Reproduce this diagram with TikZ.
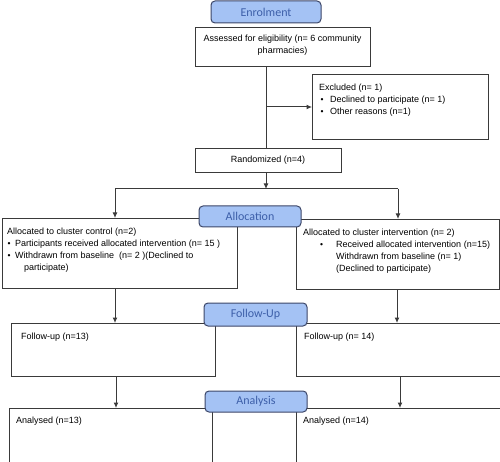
\documentclass[tikz,border=0pt]{standalone}
\usepackage{fontspec}
\setmainfont{Liberation Sans}
\newfontfamily\labfont{Carlito}
\usetikzlibrary{arrows.meta}
\definecolor{labfill}{HTML}{A4C2F4}
\definecolor{labtext}{HTML}{3D5FA9}
\definecolor{labedge}{HTML}{3C4668}
\definecolor{linec}{HTML}{3A3A3A}
\newcommand{\bul}{\makebox[0pt][l]{\raisebox{0.2pt}{\fontsize{8.5}{8}\selectfont\textbullet}}}
\begin{document}
\begin{tikzpicture}[x=1pt,y=-1pt,
  box/.style={draw=linec,line width=1pt,rectangle,inner sep=0pt,anchor=north west},
  txt/.style={inner sep=0pt,anchor=north west,align=left,font=\fontsize{9}{12}\selectfont},
  ctxt/.style={inner sep=0pt,align=center,font=\fontsize{9}{12}\selectfont},
  stage/.style={draw=labedge,fill=labfill,rounded corners=4pt,line width=1pt,inner sep=0pt,
    text=labtext,font=\labfont\fontsize{12}{14}\selectfont},
  conn/.style={draw=linec,line width=1pt},
  arr/.style={conn,-{Latex[length=5.5pt,width=5pt]}}]
\useasboundingbox (0,0) rectangle (500,462);
% boxes
\node[box,minimum width=175pt,minimum height=39pt] (assess) at (195,27) {};
\node[box,minimum width=176pt,minimum height=65pt] (excl) at (312,74) {};
\node[box,minimum width=146pt,minimum height=24pt] (rand) at (195,148) {};
\node[box,minimum width=235pt,minimum height=70pt] (ctrl) at (2,218) {};
\node[box,minimum width=203pt,minimum height=70pt] (intv) at (296,219) {};
\node[box,minimum width=204pt,minimum height=53pt] (fu1) at (11,323) {};
\node[box,minimum width=204pt,minimum height=53pt] (fu2) at (296,323) {};
\node[box,minimum width=203pt,minimum height=60pt] (an1) at (9,408) {};
\node[box,minimum width=204pt,minimum height=60pt] (an2) at (296,408) {};
% texts
\node[ctxt] (assesst) at (282.5,45.5) {Assessed for eligibility (n= 6 community\\pharmacies)};
\node[txt] (exclt) at (319,83.5) {Excluded (n= 1)\\
\hspace*{1.5pt}\bul\hspace*{9.5pt}Declined to participate (n= 1)\\
\hspace*{1.5pt}\bul\hspace*{9.5pt}Other reasons (n=1)};
\node[ctxt] (randt) at (268,160) {Randomized (n=4)};
\node[txt] (ctrlt) at (7,227.5) {Allocated to cluster control (n=2)\\
\hspace*{0.5pt}\bul\hspace*{7.5pt}Participants received allocated intervention (n= 15 )\\
\hspace*{0.5pt}\bul\hspace*{7.5pt}Withdrawn from baseline\ \ (n= 2 )(Declined to\\
\hspace*{17pt}participate)};
\node[txt] (intvt) at (303,228.5) {Allocated to cluster intervention (n= 2)\\
\hspace*{17pt}\bul\hspace*{16pt}Received allocated intervention (n=15)\\
\hspace*{33pt}Withdrawn from baseline (n= 1)\\
\hspace*{33pt}(Declined to participate)};
\node[txt] (fu1t) at (21,332.5) {Follow-up (n=13)};
\node[txt] (fu2t) at (304,332.5) {Follow-up (n= 14)};
\node[txt] (an1t) at (16,416.5) {Analysed (n=13)};
\node[txt] (an2t) at (303,416.5) {Analysed (n=14)};
% connectors
\coordinate (spine) at (266,0);
\coordinate (L) at (115,189);
\coordinate (R) at (398,189);
\draw[conn] (spine |- assess.south) -- (spine |- rand.north);
\draw[arr] (spine |- excl.west) -- (excl.west);
\draw[arr] (spine |- rand.south) -- (spine |- L);
\draw[conn] (L) -- (R);
\draw[arr] (L) -- (L |- ctrl.north);
\draw[arr] (R) -- (R |- intv.north);
\coordinate (L2) at (115,0);
\coordinate (R2) at (397,0);
\draw[arr] (L2 |- ctrl.south) -- (L2 |- fu1.north);
\draw[arr] (R2 |- intv.south) -- (R2 |- fu2.north);
\coordinate (L3) at (116,0);
\coordinate (R3) at (400,0);
\draw[arr] (L3 |- fu1.south) -- (L3 |- an1.north);
\draw[arr] (R3 |- fu2.south) -- (R3 |- an2.north);
% stage labels
\node[stage,minimum width=110pt,minimum height=22pt] (enrol) at (266,12) {Enrolment};
\node[stage,minimum width=102pt,minimum height=21pt] (alloc) at (250,216.5) {Allocation};
\node[stage,minimum width=103pt,minimum height=23pt] (follow) at (255.5,314.5) {Follow-Up};
\node[stage,minimum width=102pt,minimum height=21pt] (anal) at (256,401.5) {Analysis};
\end{tikzpicture}
\end{document}
